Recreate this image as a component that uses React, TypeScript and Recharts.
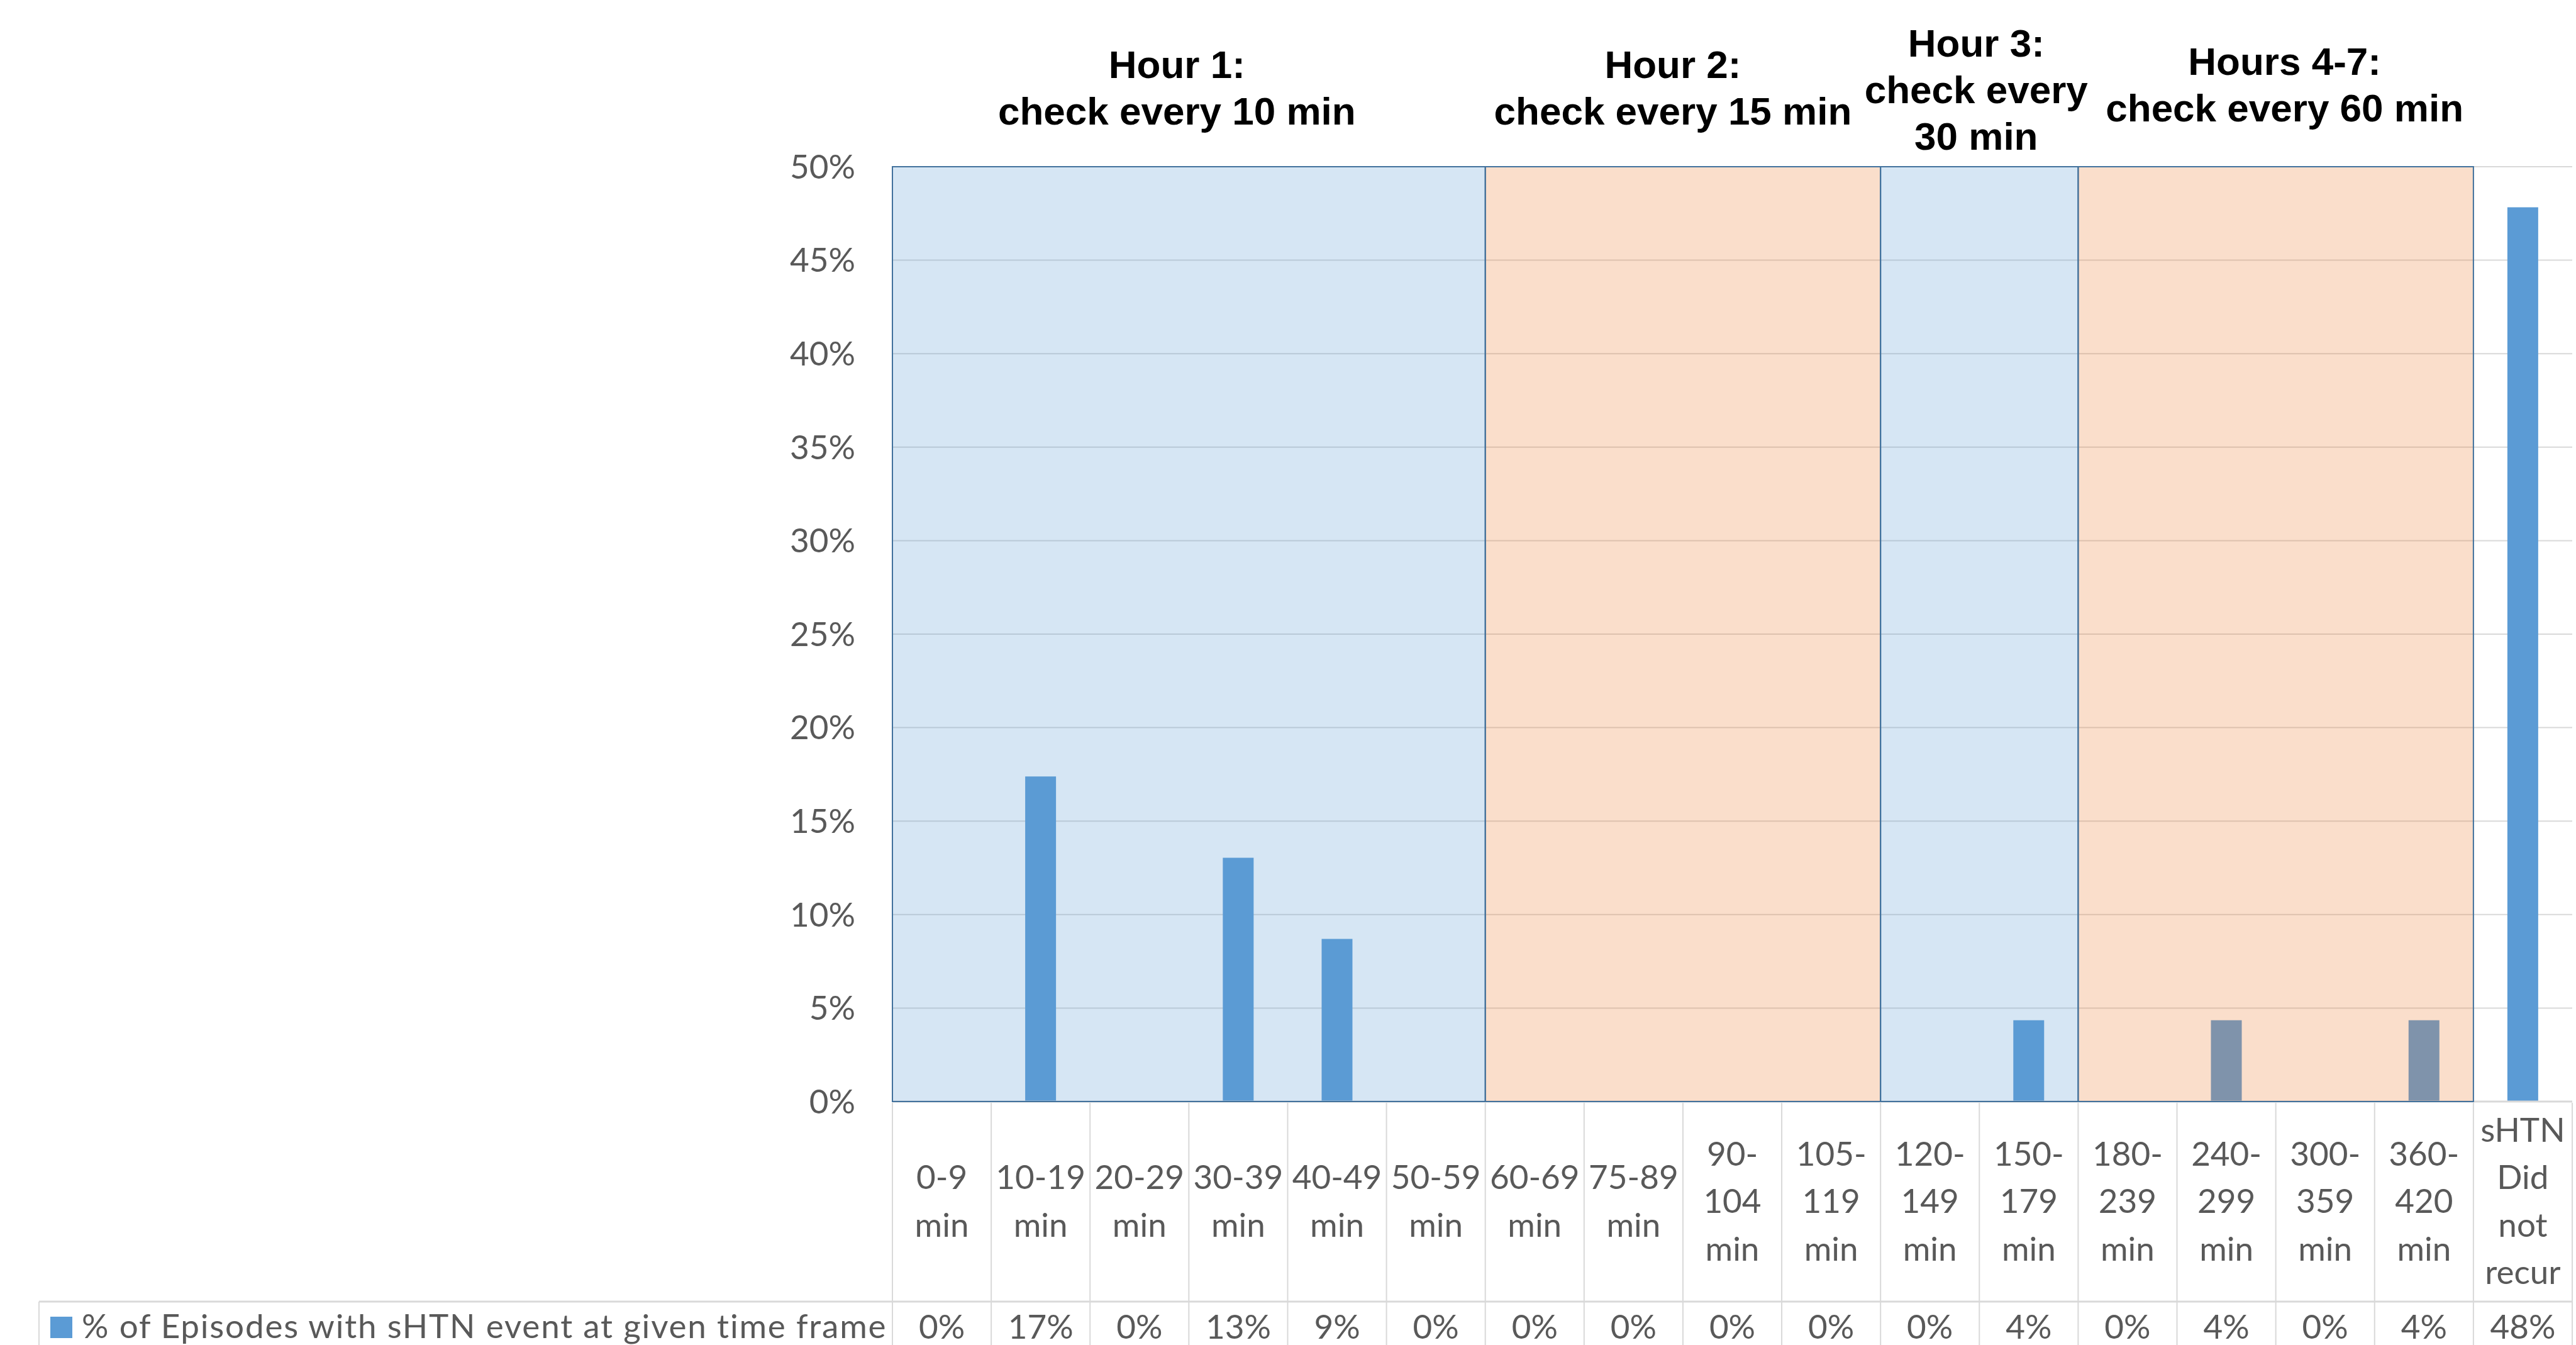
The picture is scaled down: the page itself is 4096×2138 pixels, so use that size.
import {
  Bar,
  BarChart,
  CartesianGrid,
  Legend,
  ReferenceArea,
  XAxis,
  YAxis,
} from "recharts";

// categories along the x axis (one column each in the data table)
const categories = [
  "0-9 min",
  "10-19 min",
  "20-29 min",
  "30-39 min",
  "40-49 min",
  "50-59 min",
  "60-69 min",
  "75-89 min",
  "90-104 min",
  "105-119 min",
  "120-149 min",
  "150-179 min",
  "180-239 min",
  "240-299 min",
  "300-359 min",
  "360-420 min",
  "sHTN Did not recur",
];

// how each category label is wrapped in the table cell
const tickLines = [
  ["0-9", "min"],
  ["10-19", "min"],
  ["20-29", "min"],
  ["30-39", "min"],
  ["40-49", "min"],
  ["50-59", "min"],
  ["60-69", "min"],
  ["75-89", "min"],
  ["90-", "104", "min"],
  ["105-", "119", "min"],
  ["120-", "149", "min"],
  ["150-", "179", "min"],
  ["180-", "239", "min"],
  ["240-", "299", "min"],
  ["300-", "359", "min"],
  ["360-", "420", "min"],
  ["sHTN", "Did", "not", "recur"],
];

// % of episodes
const episodePct = [
  0, 17.39, 0, 13.04, 8.7, 0, 0, 0, 0, 0, 0, 4.35, 0, 4.35, 0, 4.35, 47.83,
];

const yTicks = [0, 5, 10, 15, 20, 25, 30, 35, 40, 45, 50];

const seriesName = "% of Episodes with sHTN event at given time frame";

// monitoring periods shaded behind the bars
const periodTitles = [
  ["Hour 1:", "check every 10 min"],
  ["Hour 2:", "check every 15 min"],
  ["Hour 3:", "check every", "30 min"],
  ["Hours 4-7:", "check every 60 min"],
];
const periodFrom = ["0-9 min", "60-69 min", "120-149 min", "180-239 min"];
const periodTo = ["50-59 min", "105-119 min", "150-179 min", "360-420 min"];
const periodColors = ["#5B9BD5", "#ED7D31", "#5B9BD5", "#ED7D31"];

// layout (window pixels)
const W = 4096;
const H = 2138;
const PLOT_LEFT = 1419;
const PLOT_RIGHT = 4090;
const PLOT_TOP = 265;
const PLOT_BOTTOM = 1751;
const BAND = (PLOT_RIGHT - PLOT_LEFT) / categories.length;
const ROW_SPLIT = 2069;
const headerDx = [-19, -16, -5, 14];
const headerTop = [-141, -141, -175, -146];
const HEADER_STEP = 74;

const BODY_FONT = "Lato, 'Open Sans', sans-serif";
const TEXT_GRAY = "#595959";
const GRID_GRAY = "#D9D9D9";

const data = categories.map((name, i) => ({ name, pct: episodePct[i] }));

function TableTick(props: any) {
  const { x, payload } = props;
  const index =
    typeof props.index === "number"
      ? props.index
      : categories.indexOf(payload.value);
  const lines = tickLines[index] ?? [payload.value];
  const half = BAND / 2;
  const step = 75.5;
  const first = PLOT_BOTTOM + 177 - ((lines.length - 1) * step) / 2;
  const last = index === categories.length - 1;

  return (
    <g>
      {index === 0 && (
        <line
          x1={62}
          x2={PLOT_RIGHT}
          y1={ROW_SPLIT}
          y2={ROW_SPLIT}
          stroke={GRID_GRAY}
          strokeWidth={3}
        />
      )}
      <line
        x1={x - half}
        x2={x - half}
        y1={PLOT_BOTTOM + 2}
        y2={H}
        stroke={GRID_GRAY}
        strokeWidth={2}
      />
      {last && (
        <line
          x1={x + half}
          x2={x + half}
          y1={PLOT_BOTTOM + 2}
          y2={H}
          stroke={GRID_GRAY}
          strokeWidth={2}
        />
      )}
      <text
        textAnchor="middle"
        fontFamily={BODY_FONT}
        fontSize={53}
        fill={TEXT_GRAY}
      >
        {lines.map((line, i) => (
          <tspan key={i} x={x} y={first + i * step}>
            {line}
          </tspan>
        ))}
      </text>
      <text
        x={x}
        y={PLOT_BOTTOM + 377}
        textAnchor="middle"
        fontFamily={BODY_FONT}
        fontSize={53}
        fill={TEXT_GRAY}
      >
        {`${Math.round(episodePct[index])}%`}
      </text>
    </g>
  );
}

function TableLegend(props: any) {
  const item = props.payload?.[0];
  return (
    <svg
      width={PLOT_LEFT}
      height={H - ROW_SPLIT}
      style={{ display: "block", overflow: "visible" }}
    >
      <line
        x1={62}
        x2={62}
        y1={0}
        y2={H - ROW_SPLIT}
        stroke={GRID_GRAY}
        strokeWidth={2}
      />
      <rect x={80} y={24} width={35} height={34} fill={item?.color ?? "#5B9BD5"} />
      <text
        x={130}
        y={58}
        fontFamily={BODY_FONT}
        fontSize={53}
        letterSpacing={1.8}
        fill={TEXT_GRAY}
      >
        {item?.value ?? seriesName}
      </text>
    </svg>
  );
}

function periodHeader(i: number) {
  return (props: any) => {
    const vb = props.viewBox ?? { x: 0, y: PLOT_TOP, width: 0 };
    const cx = vb.x + vb.width / 2 + headerDx[i];
    const y0 = vb.y + headerTop[i];
    return (
      <text
        textAnchor="middle"
        fontFamily="'Liberation Sans', Arial, sans-serif"
        fontWeight="bold"
        fontSize={62}
        fill="#000000"
      >
        {periodTitles[i].map((line, j) => (
          <tspan key={j} x={cx} y={y0 + j * HEADER_STEP}>
            {line}
          </tspan>
        ))}
      </text>
    );
  };
}

export default function App() {
  return (
    <div style={{ position: "absolute", left: 0, top: 0, width: W, height: H }}>
      <BarChart
        width={W}
        height={H}
        data={data}
        margin={{ top: PLOT_TOP, right: W - PLOT_RIGHT, left: 0, bottom: 0 }}
      >
        <CartesianGrid
          vertical={false}
          stroke={GRID_GRAY}
          strokeWidth={2}
        />
        <XAxis
          dataKey="name"
          interval={0}
          height={H - PLOT_BOTTOM}
          tickLine={false}
          tickSize={0}
          tickMargin={0}
          axisLine={{ stroke: GRID_GRAY, strokeWidth: 3 }}
          tick={<TableTick />}
        />
        <YAxis
          width={PLOT_LEFT}
          domain={[0, 50]}
          ticks={yTicks}
          interval={0}
          axisLine={false}
          tickLine={false}
          tickSize={0}
          tickMargin={59}
          tickFormatter={(v: number) => `${v}%`}
          tick={{ fontFamily: BODY_FONT, fontSize: 53, fill: TEXT_GRAY }}
        />
        <Bar
          dataKey="pct"
          name={seriesName}
          fill="#5B9BD5"
          barSize={49}
          isAnimationActive={false}
        />
        {periodFrom.map((from, i) => (
          <ReferenceArea
            key={from}
            x1={from}
            x2={periodTo[i]}
            y1={0}
            y2={50}
            fill={periodColors[i]}
            fillOpacity={0.25}
            stroke="#41719C"
            strokeWidth={2}
            zIndex={600}
            label={periodHeader(i)}
          />
        ))}
        <Legend
          layout="horizontal"
          verticalAlign="middle"
          align="center"
          content={<TableLegend />}
          wrapperStyle={{
            left: 0,
            top: ROW_SPLIT,
            width: PLOT_LEFT,
            height: H - ROW_SPLIT,
            margin: 0,
          }}
        />
      </BarChart>
    </div>
  );
}
